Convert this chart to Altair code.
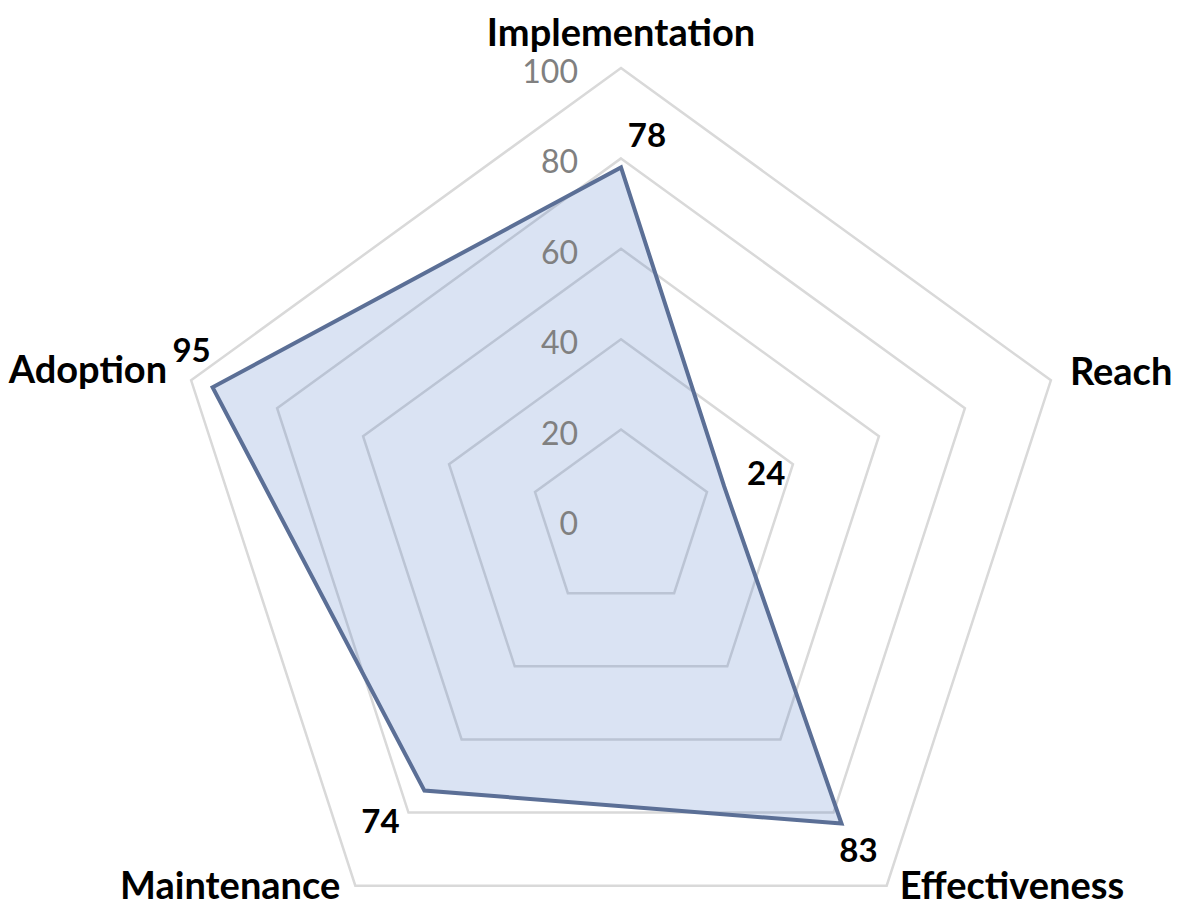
import altair as alt
import pandas as pd
import numpy as np

# ---- data ----
categories = ["Implementation", "Reach", "Effectiveness", "Maintenance", "Adoption"]
scores = [78, 24, 83, 74, 95]
grid_levels = [20, 40, 60, 80, 100]
tick_values = [0, 20, 40, 60, 80, 100]

n = len(categories)
df = pd.DataFrame({"category": categories, "score": scores, "idx": list(range(n))})
df["angle"] = df["idx"] * 2 * np.pi / n
df["x"] = df["score"] * np.sin(df["angle"])
df["y"] = df["score"] * np.cos(df["angle"])
df["x_out"] = max(grid_levels) * np.sin(df["angle"])
df["y_out"] = max(grid_levels) * np.cos(df["angle"])
df["label"] = df["score"].astype(str)

grid = pd.DataFrame([(lv, i) for lv in grid_levels for i in range(n)], columns=["level", "idx"])
grid["angle"] = grid["idx"] * 2 * np.pi / n
grid["x"] = grid["level"] * np.sin(grid["angle"])
grid["y"] = grid["level"] * np.cos(grid["angle"])

ticks = pd.DataFrame({"tick": tick_values})
ticks["x"] = ticks["tick"] * np.sin(0.0)
ticks["y"] = ticks["tick"] * np.cos(0.0)
ticks["label"] = ticks["tick"].astype(str)

# ---- layout ----
W, H = 1165, 899
CX, CY = 613, 512
PX = 4.52  # pixels per unit
xs = alt.Scale(domain=[-CX / PX, (W - CX) / PX], nice=False, zero=False)
ys = alt.Scale(domain=[-(H - CY) / PX, CY / PX], nice=False, zero=False)

FONT = "Lato"

def X(f):
    return alt.X(f, type="quantitative", scale=xs, axis=None)

def Y(f):
    return alt.Y(f, type="quantitative", scale=ys, axis=None)

grid_layer = alt.Chart(grid).mark_line(
    interpolate="linear-closed", color="#d9d9d9", strokeWidth=2.5, strokeJoin="miter"
).encode(x=X("x"), y=Y("y"), detail="level:N", order="idx:Q")

poly_layer = alt.Chart(df).mark_line(
    interpolate="linear-closed", stroke="#5b6f96", strokeWidth=4, strokeJoin="miter",
    fill="#4472c4", fillOpacity=0.2
).encode(x=X("x"), y=Y("y"), order="idx:Q")

tick_layer = alt.Chart(ticks).mark_text(
    align="right", baseline="alphabetic", dx=-43, dy=15,
    font=FONT, fontSize=32, color="#808080"
).encode(x=X("x"), y=Y("y"), text="label:N")

layers = [grid_layer, poly_layer, tick_layer]

cat_style = {
    "Implementation": dict(align="center", dx=0, dy=-22),
    "Reach": dict(align="left", dx=19, dy=5),
    "Effectiveness": dict(align="left", dx=13, dy=13),
    "Maintenance": dict(align="right", dx=-15, dy=13),
    "Adoption": dict(align="right", dx=-24, dy=3),
}
val_style = {
    "Implementation": dict(dx=26, dy=-20),
    "Reach": dict(dx=42, dy=-1),
    "Effectiveness": dict(dx=17, dy=38),
    "Maintenance": dict(dx=-44, dy=42),
    "Adoption": dict(dx=-21, dy=-25),
}

for c in categories:
    s = cat_style[c]
    layers.append(
        alt.Chart(df).transform_filter(alt.datum.category == c).mark_text(
            baseline="alphabetic", font=FONT, fontSize=38, fontWeight="bold",
            color="#000000", **s
        ).encode(x=X("x_out"), y=Y("y_out"), text="category:N")
    )
    v = val_style[c]
    layers.append(
        alt.Chart(df).transform_filter(alt.datum.category == c).mark_text(
            align="center", baseline="alphabetic", font=FONT, fontSize=33,
            fontWeight="bold", color="#000000", **v
        ).encode(x=X("x"), y=Y("y"), text="label:N")
    )

chart = alt.layer(*layers).properties(
    width=W, height=H, padding=0,
    autosize=alt.AutoSizeParams(type="none"),
    background="white",
).configure_view(stroke=None)

chart.save("out.html", embed_options={"renderer": "svg", "actions": False})
